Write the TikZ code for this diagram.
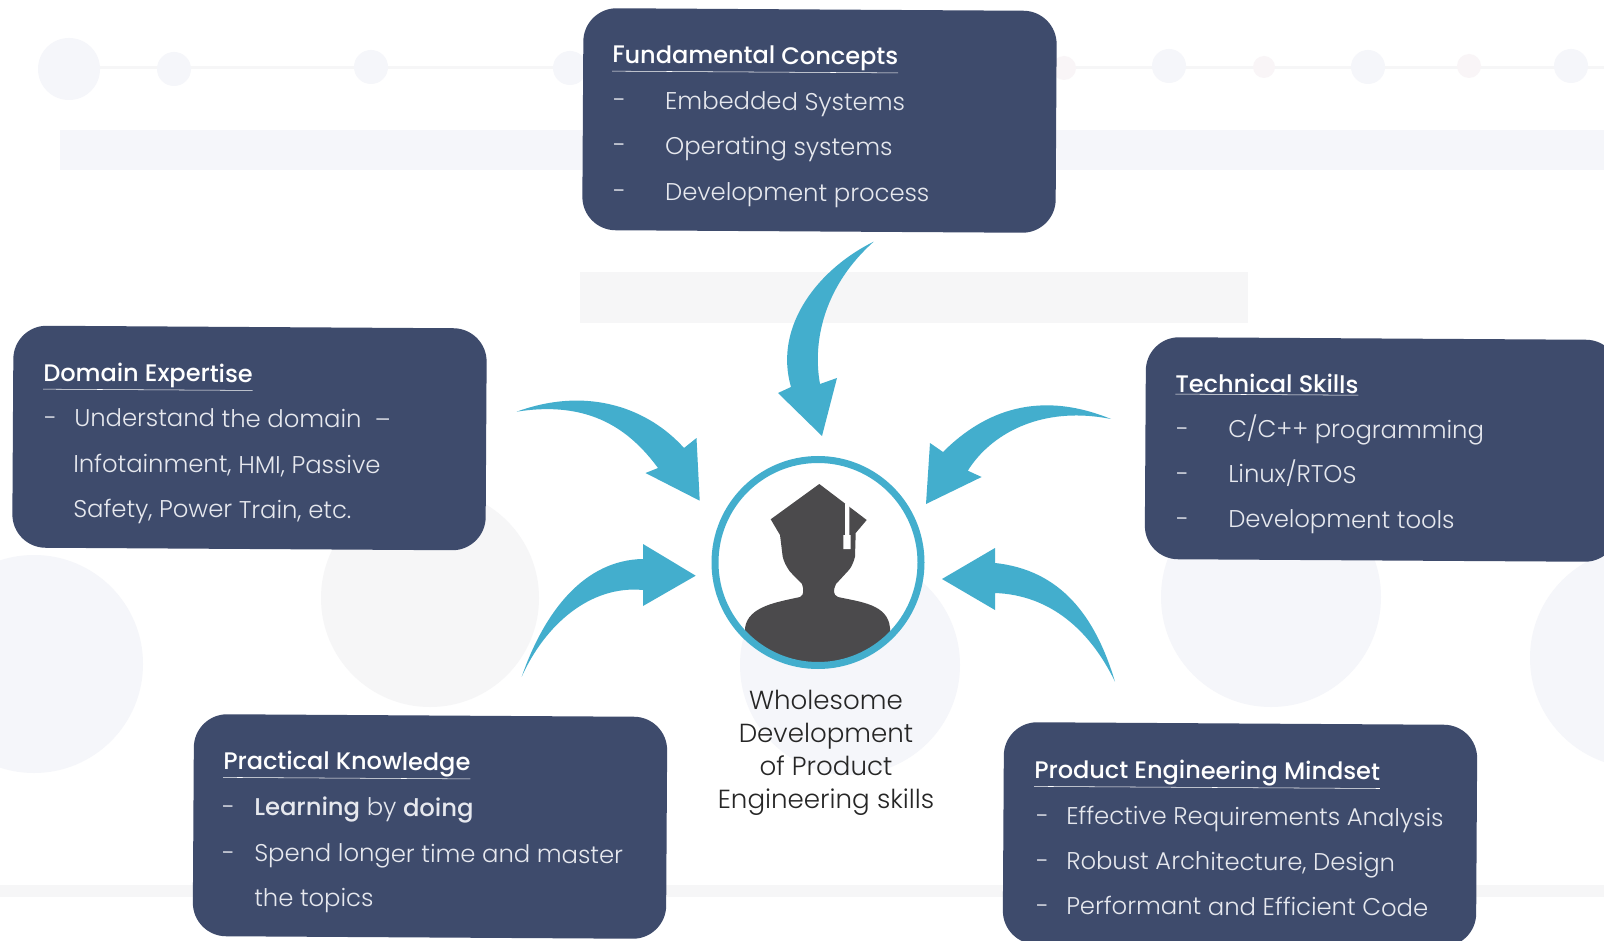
\documentclass[tikz,border=0pt]{standalone}
\usepackage{fontspec}
\setmainfont{Poppins Light}[BoldFont={Poppins Medium}]
\definecolor{boxblue}{HTML}{3E4B6C}
\definecolor{arrowblue}{HTML}{43AECD}
\definecolor{personGray}{HTML}{4B4A4C}
\definecolor{boxText}{HTML}{E6E8EE}
\definecolor{ghostBlue}{HTML}{F5F6FA}
\definecolor{ghostGray}{HTML}{F6F6F7}
\definecolor{ghostPink}{HTML}{F9F5F7}
\newcommand{\dashitem}[2]{\makebox[#1][l]{-}#2}
\tikzset{
  infobox/.style={fill=boxblue,rounded corners=25pt,rotate=-0.35,inner sep=0pt,minimum width=355pt,minimum height=166.5pt},
  boxtitle/.style={anchor=base west,inner sep=0pt,text=white,font=\fontsize{18}{20}\selectfont\bfseries,rotate=-0.35},
  boxitem/.style={anchor=base west,inner sep=0pt,text=boxText,font=\fontsize{18.2}{20}\selectfont,rotate=-0.35},
  caption/.style={anchor=base,inner sep=0pt,text=black!85,font=\fontsize{19.6}{22}\selectfont},
  bluearrow/.style={fill=arrowblue},
  ghost/.style={fill=ghostBlue}
}
\begin{document}
\begin{tikzpicture}[x=0.75pt,y=0.75pt,yscale=-1,xscale=1]
\clip (0,0) rectangle (1604,941);
%Shape: paper
\fill [fill=white] (0,0) rectangle (1604,941);
%Ghost bands
\fill [ghost] (60,130) rectangle (1604,170);
\fill [ghostGray] (580,272) rectangle (1248,323);
\fill [ghostGray] (0,885) rectangle (1604,897);
\fill [ghostGray] (70,66) rectangle (1604,69);
%Ghost dots
\fill [ghost] (69,69) circle (31);
\fill [ghost] (174,69) circle (17);
\fill [ghost] (371,67) circle (17);
\fill [ghost] (570,68) circle (17);
\fill [ghostPink] (1064,68) circle (12);
\fill [ghost] (1169,66) circle (17);
\fill [ghostPink] (1264,67) circle (11);
\fill [ghost] (1368,67) circle (17);
\fill [ghostPink] (1469,66) circle (12);
\fill [ghost] (1571,66) circle (17);
%Ghost circles
\fill [ghost] (34,664) circle (109);
\fill [ghostGray] (430,598) circle (109);
\fill [ghost] (850,665) circle (110);
\fill [ghost] (1271,597) circle (110);
\fill [ghost] (1640,658) circle (110);

%Shape: boxes
\node [infobox] (fundamental) at (819.5,120.5) {};
\node [infobox] (domain) at (249.5,438) {};
\node [infobox] (technical) at (1382,449.5) {};
\node [infobox] (practical) at (430,826.5) {};
\node [infobox] (product) at (1240,834.5) {};

%Block arrows
\fill [bluearrow] (873.7,241.7) .. controls (820,268) and (773,325) .. (791,387) -- (778,393) -- (822,436) -- (837,378) -- (820,384) .. controls (812,340) and (825,285) .. cycle;
\fill [bluearrow] (516.6,411.7) .. controls (590,385) and (650,410) .. (684,448) -- (696.5,438) -- (699.7,500.7) -- (645.5,473) -- (658,468) .. controls (630,430) and (590,400) .. cycle;
\fill [bluearrow] (1111,419) .. controls (1040,390) and (985,410) .. (943,452) -- (930,443) -- (926,504) -- (981.6,477) -- (967.8,470.7) .. controls (990,435) and (1040,405) .. cycle;
\fill [bluearrow] (521.7,676.7) .. controls (545,610) and (585,560) .. (643,559) -- (643,544) -- (695.7,575.7) -- (643,606) -- (643,590) .. controls (590,585) and (545,625) .. cycle;
\fill [bluearrow] (1115,681.7) .. controls (1095,615) and (1060,570) .. (995,563) -- (995,548) -- (942,579) -- (995,610) -- (995,593) .. controls (1050,595) and (1090,630) .. cycle;

%Shape: Circle
\fill [white] (818,562.5) circle (103);
\begin{scope}
\clip (818,562.5) circle (103);
%Person with cap
\fill [personGray] (819.3,484) -- (866.7,520) -- (855.7,533) -- (855,556.7) .. controls (853,564) and (851,568) .. (848,571) -- (836,584) .. controls (833,590) and (833,595) .. (838,597) .. controls (860,602) and (888,604) .. (890,628) -- (890,680) -- (745,680) -- (745,628) .. controls (748,606) and (778,602) .. (800,597) .. controls (804,595) and (804,590) .. (802,584) -- (790,571.7) .. controls (786,566) and (784,562) .. (782.7,556.7) -- (780,535) -- (770.7,519.3) -- cycle;
\end{scope}
%Tassel
\fill [white] (845,503) -- (849.3,506) -- (849.3,535) -- (850.7,535) -- (850.7,549) -- (843.3,549) -- (843.3,535) -- (845,535) -- cycle;
\draw [arrowblue,line width=5.25pt] (818,562.5) circle (103);

% Text Node
\node [boxtitle] (fundamentalTitle) at (612,63) {\underline{Fundamental Concepts}};
\node [boxitem] (fundamentalA) at (613,109) {\dashitem{39pt}{Embedded Systems}};
\node [boxitem] (fundamentalB) at (613,154) {\dashitem{39pt}{Operating systems}};
\node [boxitem] (fundamentalC) at (613,200) {\dashitem{39pt}{Development process}};
% Text Node
\node [boxtitle] (domainTitle) at (43,381) {\underline{Domain Expertise}};
\node [boxitem] (domainA) at (44,426) {\dashitem{22.5pt}{Understand the domain\ \ --}};
\node [boxitem] (domainB) at (73,472) {Infotainment, HMI, Passive};
\node [boxitem] (domainC) at (73,517) {Safety, Power Train, etc.};
% Text Node
\node [boxtitle] (technicalTitle) at (1175,392) {\underline{Technical Skills}};
\node [boxitem] (technicalA) at (1176,437) {\dashitem{39pt}{C/C++ programming}};
\node [boxitem] (technicalB) at (1176,482) {\dashitem{39pt}{Linux/RTOS}};
\node [boxitem] (technicalC) at (1176,527) {\dashitem{39pt}{Development tools}};
% Text Node
\node [boxtitle] (practicalTitle) at (223,769) {\underline{Practical Knowledge}};
\node [boxitem] (practicalA) at (222,815) {\dashitem{24pt}{\textbf{Learning} by \textbf{doing}}};
\node [boxitem] (practicalB) at (222,861) {\dashitem{24pt}{Spend longer time and master}};
\node [boxitem] (practicalC) at (254,906) {the topics};
% Text Node
\node [boxtitle] (productTitle) at (1034,778) {\underline{Product Engineering Mindset}};
\node [boxitem] (productA) at (1036,824) {\dashitem{22.5pt}{Effective Requirements Analysis}};
\node [boxitem] (productB) at (1036,869) {\dashitem{22.5pt}{Robust Architecture, Design}};
\node [boxitem] (productC) at (1036,914) {\dashitem{22.5pt}{Performant and Efficient Code}};
% Text Node
\node [caption] (captionA) at (826,709) {Wholesome};
\node [caption] (captionB) at (826,742) {Development};
\node [caption] (captionC) at (826,775) {of Product};
\node [caption] (captionD) at (826,808) {Engineering skills};
\end{tikzpicture}
\end{document}
